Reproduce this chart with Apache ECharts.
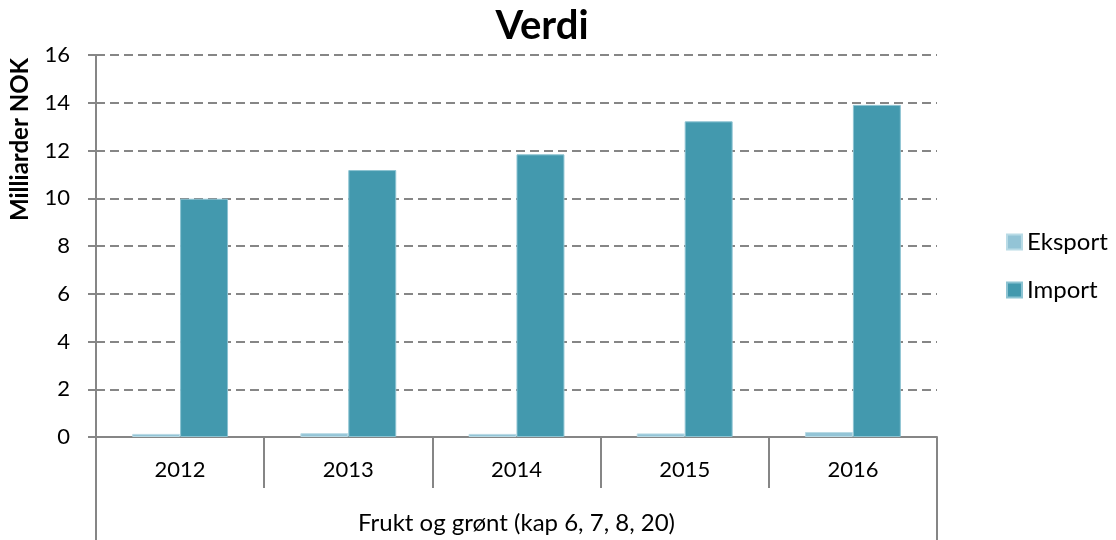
<!DOCTYPE html>
<html>
<head>
<meta charset="utf-8">
<script src="https://cdn.jsdelivr.net/npm/echarts@6/dist/echarts.min.js"></script>
<style>
  html, body { margin: 0; padding: 0; background: #fff; }
  #chart { width: 1116px; height: 540px; }
</style>
</head>
<body>
<div id="chart"></div>
<script>
  'use strict';

  var years = ['2012', '2013', '2014', '2015', '2016'];
  var groupLabel = ['Frukt og grønt (kap 6, 7, 8, 20)'];
  var eksport = [0.13, 0.16, 0.13, 0.15, 0.21];
  var importVals = [9.98, 11.18, 11.84, 13.22, 13.91];
  var seriesNames = ['Eksport', 'Import'];

  var font = 'Lato, "Noto Sans", sans-serif';
  var axisGrey = '#868686';

  var chart = echarts.init(document.getElementById('chart'));

  chart.setOption({
    animation: false,
    textStyle: { fontFamily: font, color: '#000' },
    title: {
      text: 'Verdi',
      left: 537,
      textAlign: 'center',
      top: 1,
      textStyle: { fontFamily: font, fontSize: 40, fontWeight: 'bold', color: '#000' }
    },
    legend: {
      orient: 'vertical',
      left: 1006,
      top: 229,
      padding: 0,
      itemWidth: 15,
      itemHeight: 15,
      itemGap: 22,
      icon: 'rect',
      data: seriesNames,
      textStyle: { fontFamily: font, fontSize: 24, color: '#000', lineHeight: 26 }
    },
    graphic: [{
      type: 'text',
      left: 8,
      top: 58,
      rotation: Math.PI / 2,
      style: {
        text: 'Milliarder NOK',
        font: 'bold 24px ' + font,
        fill: '#000'
      }
    }],
    grid: { left: 96, right: 179, top: 55, bottom: 103, containLabel: false },
    xAxis: [{
      type: 'category',
      data: years,
      position: 'bottom',
      axisLine: { show: true, lineStyle: { color: axisGrey, width: 2 } },
      axisTick: { show: true, interval: 0, length: 51, lineStyle: { color: axisGrey, width: 2 } },
      axisLabel: { fontFamily: font, fontSize: 22, color: '#000', margin: 22 }
    }, {
      type: 'category',
      data: groupLabel,
      position: 'bottom',
      axisLine: { show: false },
      axisTick: { show: true, length: 103, lineStyle: { color: axisGrey, width: 2 } },
      axisLabel: { fontFamily: font, fontSize: 24, color: '#000', margin: 74 }
    }],
    yAxis: {
      type: 'value',
      min: 0,
      max: 16,
      interval: 2,
      axisLine: { show: true, lineStyle: { color: axisGrey, width: 2 } },
      axisTick: { show: true, length: 8, lineStyle: { color: axisGrey, width: 2 } },
      axisLabel: { fontFamily: font, fontSize: 22, color: '#000', margin: 26 },
      splitLine: { show: true, lineStyle: { color: axisGrey, width: 2, type: [9, 5] } }
    },
    series: [{
      name: seriesNames[0],
      type: 'bar',
      data: eksport,
      barGap: '0%',
      barCategoryGap: '43%',
      itemStyle: { color: '#93C4D6', borderColor: '#b9dbe6', borderWidth: 1 }
    }, {
      name: seriesNames[1],
      type: 'bar',
      data: importVals,
      barGap: '0%',
      barCategoryGap: '43%',
      itemStyle: { color: '#4399AE', borderColor: '#8cc3d2', borderWidth: 1 }
    }]
  });
</script>
</body>
</html>
